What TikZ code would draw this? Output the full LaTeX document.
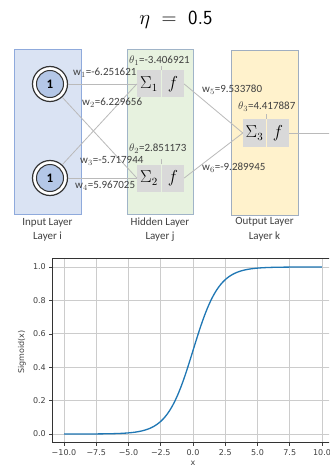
\documentclass[tikz,border=0pt]{standalone}
\usepackage{fontspec}
\setmainfont{Carlito}
\newfontfamily\dejavu{DejaVu Sans}
\definecolor{inblue}{HTML}{DAE3F3}
\definecolor{inborder}{HTML}{8FAADC}
\definecolor{hidgreen}{HTML}{E7F2DF}
\definecolor{hidborder}{HTML}{A0B4C8}
\definecolor{outyel}{HTML}{FFF2CC}
\definecolor{outborder}{HTML}{A0AEC0}
\definecolor{cellgray}{HTML}{D9D9D9}
\definecolor{nodeblue}{HTML}{B4C7E7}
\definecolor{txt}{HTML}{404040}
\definecolor{mplblue}{HTML}{1F77B4}
\definecolor{gridc}{HTML}{CCCCCC}
\begin{document}
\begin{tikzpicture}[x=1pt,y=-1pt,
  conn/.style={draw=black!27, line width=0.8pt},
  layerbox/.style={line width=0.8pt, inner sep=0pt, minimum width=#1},
  cell/.style={fill=cellgray, minimum height=27pt, inner sep=0pt, text=black, font=\fontsize{16}{18}\selectfont},
  wlab/.style={anchor=west, font=\fontsize{11}{13}\selectfont, text=txt, inner sep=0pt},
  laylab/.style={font=\fontsize{11}{13}\selectfont, text=txt, inner sep=0pt},
  ticklab/.style={font=\dejavu\fontsize{8}{9}\selectfont, text=txt, inner sep=0pt},
  gridl/.style={draw=gridc, line width=0.8pt},
  ticks/.style={draw=black!75, line width=0.6pt}
]
\clip (0,0) rectangle (329,468);
\fill[white] (0,0) rectangle (329,468);

% title
\node (title) at (176,20) {\fontsize{20}{24}\selectfont $\eta\;=\;\mathsf{0.5}$};

% layer boxes
\node[layerbox=67pt, minimum height=165pt, fill=inblue, draw=inborder] (L1) at (47.5,131.5) {};
\node[layerbox=66pt, minimum height=165pt, fill=hidgreen, draw=hidborder] (L2) at (160,131.5) {};
\node[layerbox=67pt, minimum height=165pt, fill=outyel, draw=outborder] (L3) at (264.5,132.5) {};

% input nodes
\node[circle, draw=black!80, line width=1.2pt, fill=white, minimum size=35pt, inner sep=0pt] (in1) at (50,84) {};
\node[circle, draw=black!80, line width=1pt, fill=nodeblue, minimum size=27pt, inner sep=0pt, font=\fontsize{13}{15}\selectfont\bfseries] (in1i) at (in1.center) {1};
\node[circle, draw=black!80, line width=1.2pt, fill=white, minimum size=35pt, inner sep=0pt] (in2) at (50,178) {};
\node[circle, draw=black!80, line width=1pt, fill=nodeblue, minimum size=27pt, inner sep=0pt, font=\fontsize{13}{15}\selectfont\bfseries] (in2i) at (in2.center) {1};

% hidden cells
\node[cell, minimum width=24pt] (s1) at (149,84) {$\Sigma_1$};
\node[cell, minimum width=22pt] (f1) at (173,84) {$f$};
\node[cell, minimum width=24pt] (s2) at (149,178) {$\Sigma_2$};
\node[cell, minimum width=22pt] (f2) at (173,178) {$f$};
\node[cell, minimum width=23pt] (s3) at (254.5,133) {$\Sigma_3$};
\node[cell, minimum width=22pt] (f3) at (278,133) {$f$};
\coordinate (outend) at (330,133);

% thetas
\node[wlab] (t1) at (129,61) {$\theta_1$=-3.406921};
\node[wlab] (t2) at (129,149) {$\theta_2$=2.851173};
\node[wlab] (t3) at (238,107) {$\theta_3$=4.417887};
\draw[conn] (s1.north east) -- ++(0,-4);
\draw[conn] (s2.north east) -- ++(0,-5);
\draw[conn] (s3.north east) -- ++(0,-5);

% connectors
\draw[conn] (in1) -- (s1.west);
\draw[conn] (in1) -- (s2.west);
\draw[conn] (in2) -- (s1.west);
\draw[conn] (in2) -- (s2.west);
\draw[conn] (f1.east) -- (s3.west);
\draw[conn] (f2.east) -- (s3.west);
\draw[conn] (f3.east) -- (outend);

% weights
\node[wlab] (w1) at (73,73) {w$_1$=-6.251621};
\node[wlab] (w2) at (82,103) {w$_2$=6.229656};
\node[wlab] (w3) at (80,161) {w$_3$=-5.717944};
\node[wlab] (w4) at (75,186) {w$_4$=5.967025};
\node[wlab] (w5) at (202,90) {w$_5$=9.533780};
\node[wlab] (w6) at (202,168) {w$_6$=-9.289945};

% layer labels
\node[laylab] (l1a) at (47.5,223) {Input Layer};
\node[laylab] (l1b) at (47.5,237) {Layer i};
\node[laylab] (l2a) at (160,223) {Hidden Layer};
\node[laylab] (l2b) at (160,237) {Layer j};
\node[laylab] (l3a) at (264.5,222) {Output Layer};
\node[laylab] (l3b) at (264.5,237) {Layer k};

% plot
\foreach \v in {-10,-7.5,...,10} {
  \draw[gridl] ({193+12.9*\v},258) -- ({193+12.9*\v},442);
  \draw[ticks] ({193+12.9*\v},442) -- ({193+12.9*\v},445.5);
}
\foreach \v in {0,0.2,0.4,0.6,0.8,1.0} {
  \draw[gridl] (52,{434-167*\v}) -- (335,{434-167*\v});
  \draw[ticks] (52,{434-167*\v}) -- (48.5,{434-167*\v});
}
\foreach \v/\t in {-10/{−10.0},-7.5/{−7.5},-5/{−5.0},-2.5/{−2.5},0/{0.0},2.5/{2.5},5/{5.0},7.5/{7.5},10/{10.0}}
  \node[ticklab] at ({193+12.9*\v},453) {\t};
\foreach \v/\t in {0/{0.0},0.2/{0.2},0.4/{0.4},0.6/{0.6},0.8/{0.8},1.0/{1.0}}
  \node[ticklab, anchor=east] at (46,{434-167*\v}) {\t};
\draw[mplblue, line width=1.3pt, line join=round] plot[domain=-10:0, samples=80, smooth] ({193+12.9*\x},{434-167*exp(\x)/(1+exp(\x))})
  -- plot[domain=0:10, samples=80, smooth] ({193+12.9*\x},{434-167/(1+exp(-\x))});
\draw[draw=black!80, line width=0.8pt] (52,258) rectangle (335,442);
\node[ticklab] (xl) at (193,463.5) {x};
\node[ticklab, rotate=90] (yl) at (22,352) {Sigmoid(x)};
\end{tikzpicture}
\end{document}
